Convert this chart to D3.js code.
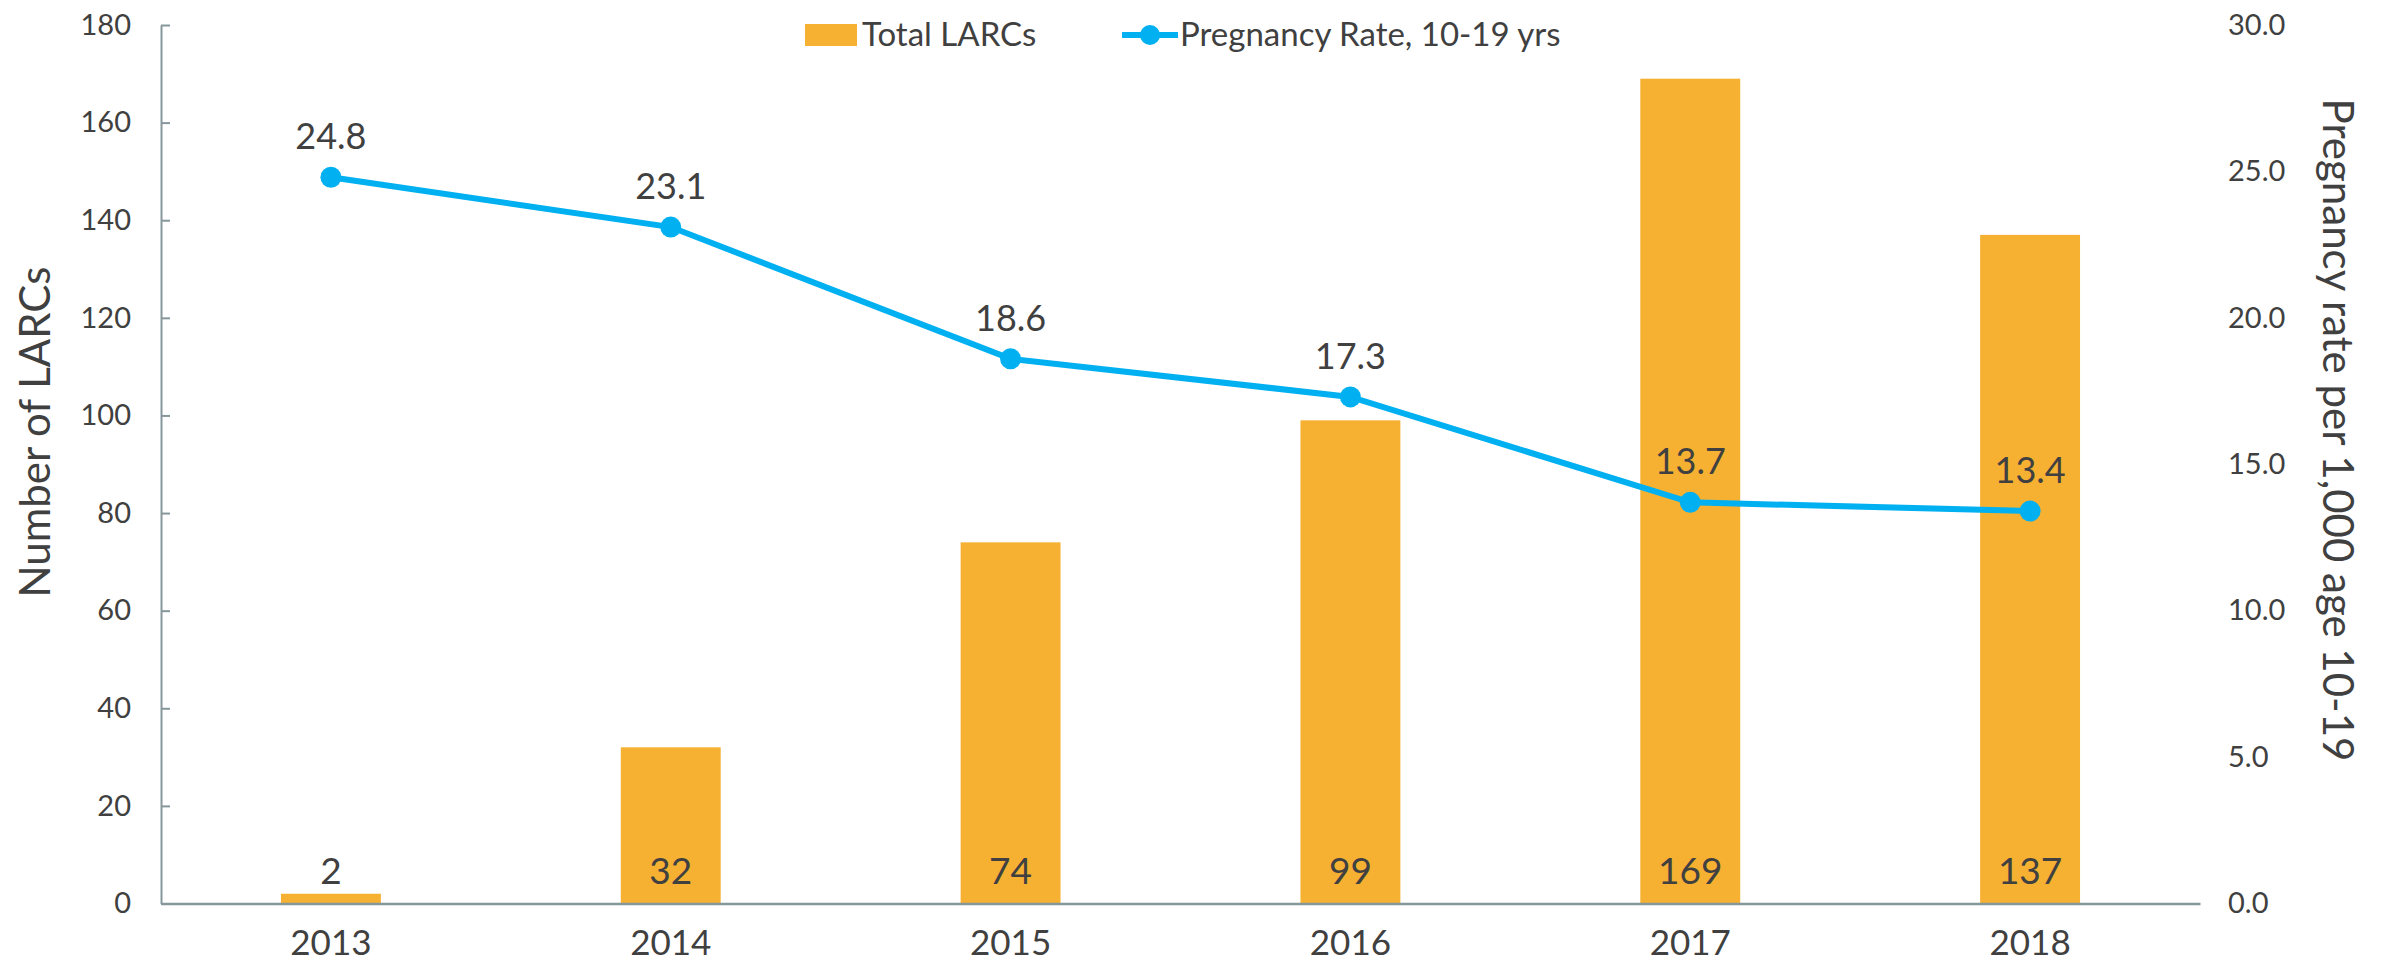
<!DOCTYPE html>
<html>
<head>
<meta charset="utf-8">
<script src="https://cdn.jsdelivr.net/npm/d3@7"></script>
<style>
  body { margin: 0; background: #fff; }
  svg text { font-family: Lato, "Open Sans", sans-serif; fill: #404040; }
</style>
</head>
<body>
<div id="chart"></div>
<script>
// data
var years = ["2013", "2014", "2015", "2016", "2017", "2018"];
var larcs = [2, 32, 74, 99, 169, 137];
var pregnancyRate = [24.8, 23.1, 18.6, 17.3, 13.7, 13.4];
var leftTicks = [0, 20, 40, 60, 80, 100, 120, 140, 160, 180];
var rightTicks = [0, 5, 10, 15, 20, 25, 30];

var W = 2381, H = 966;
var plot = { left: 161, right: 2200, top: 25, bottom: 903.5 };

var barColor = "#F6B133",
  lineColor = "#00B0F0",
  axisColor = "#85979B";

var svg = d3.select("#chart")
  .append("svg")
  .attr("width", W)
  .attr("height", H);

var x = d3.scaleBand()
  .domain(years)
  .range([plot.left, plot.right])
  .paddingInner(0.706)
  .paddingOuter(0.353);

var yLeft = d3.scaleLinear().domain([0, 180]).range([plot.bottom, plot.top]);
var yRight = d3.scaleLinear().domain([0, 30]).range([plot.bottom, plot.top]);

var cx = function (d, i) { return x(years[i]) + x.bandwidth() / 2; };

// bars
svg.append("g")
  .selectAll("rect")
  .data(larcs)
  .enter()
  .append("rect")
  .attr("x", (d, i) => x(years[i]))
  .attr("y", d => yLeft(d))
  .attr("width", x.bandwidth())
  .attr("height", d => yLeft(0) - yLeft(d))
  .attr("fill", barColor);

// bar labels, sitting at the base
svg.append("g")
  .selectAll("text")
  .data(larcs)
  .enter()
  .append("text")
  .attr("x", cx)
  .attr("y", yLeft(0) - 20)
  .attr("text-anchor", "middle")
  .style("font-size", "37px")
  .text(d => d);

// left axis
var gl = svg.append("g")
  .attr("transform", "translate(" + plot.left + ",0)")
  .call(d3.axisLeft(yLeft).tickValues(leftTicks).tickSizeInner(-9).tickSizeOuter(0).tickPadding(30));
gl.select(".domain").attr("stroke", axisColor).attr("stroke-width", 2);
gl.selectAll(".tick line").attr("stroke", axisColor).attr("stroke-width", 2);
gl.selectAll(".tick text").style("font-size", "29px").attr("fill", "#404040").attr("font-family", null);

// right axis (labels only)
var gr = svg.append("g")
  .attr("transform", "translate(" + plot.right + ",0)")
  .call(d3.axisRight(yRight).tickValues(rightTicks).tickFormat(d3.format(".1f")).tickSize(0).tickPadding(28));
gr.select(".domain").remove();
gr.selectAll(".tick text").style("font-size", "29px").attr("fill", "#404040").attr("font-family", null);

// bottom axis
var gb = svg.append("g")
  .attr("transform", "translate(0," + plot.bottom + ")")
  .call(d3.axisBottom(x).tickSize(0).tickPadding(27));
gb.select(".domain").attr("stroke", axisColor).attr("stroke-width", 2.5);
gb.selectAll(".tick text").style("font-size", "35px").attr("fill", "#404040").attr("font-family", null);

// pregnancy rate line
var line = d3.line()
  .x(cx)
  .y(d => yRight(d));

svg.append("path")
  .datum(pregnancyRate)
  .attr("d", line)
  .attr("fill", "none")
  .attr("stroke", lineColor)
  .attr("stroke-width", 6);

svg.append("g")
  .selectAll("circle")
  .data(pregnancyRate)
  .enter()
  .append("circle")
  .attr("cx", cx)
  .attr("cy", d => yRight(d))
  .attr("r", 10.5)
  .attr("fill", lineColor);

svg.append("g")
  .selectAll("text")
  .data(pregnancyRate)
  .enter()
  .append("text")
  .attr("x", cx)
  .attr("y", d => yRight(d) - 28)
  .attr("text-anchor", "middle")
  .style("font-size", "36px")
  .text(d => d.toFixed(1));

// axis titles
svg.append("text")
  .attr("transform", "translate(50,432) rotate(-90)")
  .attr("text-anchor", "middle")
  .style("font-size", "42px")
  .text("Number of LARCs");

svg.append("text")
  .attr("transform", "translate(2323,430) rotate(90)")
  .attr("text-anchor", "middle")
  .style("font-size", "42px")
  .text("Pregnancy rate per 1,000 age 10-19");

// legend
var legend = svg.append("g");
legend.append("rect")
  .attr("x", 805).attr("y", 24)
  .attr("width", 52).attr("height", 22)
  .attr("fill", barColor);
legend.append("text")
  .attr("x", 862).attr("y", 46)
  .style("font-size", "33px")
  .text("Total LARCs");
legend.append("line")
  .attr("x1", 1122).attr("x2", 1178)
  .attr("y1", 35).attr("y2", 35)
  .attr("stroke", lineColor)
  .attr("stroke-width", 6);
legend.append("circle")
  .attr("cx", 1150).attr("cy", 35).attr("r", 10)
  .attr("fill", lineColor);
legend.append("text")
  .attr("x", 1180).attr("y", 46)
  .style("font-size", "33px")
  .text("Pregnancy Rate, 10-19 yrs");
</script>
</body>
</html>
